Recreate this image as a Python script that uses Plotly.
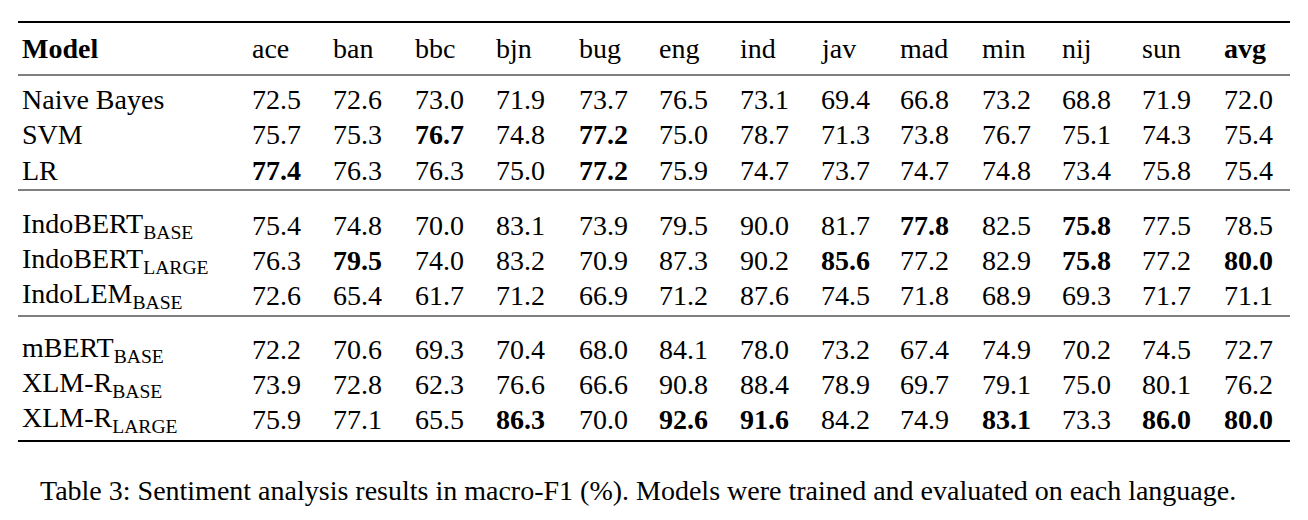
import plotly.graph_objects as go

columns = ["ace","ban","bbc","bjn","bug","eng","ind","jav","mad","min","nij","sun","avg"]
models = ["Naive Bayes","SVM","LR",
          "IndoBERT<sub>BASE</sub>","IndoBERT<sub>LARGE</sub>","IndoLEM<sub>BASE</sub>",
          "mBERT<sub>BASE</sub>","XLM-R<sub>BASE</sub>","XLM-R<sub>LARGE</sub>"]
values = [
    [72.5,72.6,73.0,71.9,73.7,76.5,73.1,69.4,66.8,73.2,68.8,71.9,72.0],
    [75.7,75.3,76.7,74.8,77.2,75.0,78.7,71.3,73.8,76.7,75.1,74.3,75.4],
    [77.4,76.3,76.3,75.0,77.2,75.9,74.7,73.7,74.7,74.8,73.4,75.8,75.4],
    [75.4,74.8,70.0,83.1,73.9,79.5,90.0,81.7,77.8,82.5,75.8,77.5,78.5],
    [76.3,79.5,74.0,83.2,70.9,87.3,90.2,85.6,77.2,82.9,75.8,77.2,80.0],
    [72.6,65.4,61.7,71.2,66.9,71.2,87.6,74.5,71.8,68.9,69.3,71.7,71.1],
    [72.2,70.6,69.3,70.4,68.0,84.1,78.0,73.2,67.4,74.9,70.2,74.5,72.7],
    [73.9,72.8,62.3,76.6,66.6,90.8,88.4,78.9,69.7,79.1,75.0,80.1,76.2],
    [75.9,77.1,65.5,86.3,70.0,92.6,91.6,84.2,74.9,83.1,73.3,86.0,80.0],
]
caption = "Table 3: Sentiment analysis results in macro-F1 (%). Models were trained and evaluated on each language."

OFF = 8
col_x = [250,331,413,494,577,657,738,819,898,980,1060,1140,1222]
row_y = [99,134,170,225,260,295,349,384,419]
header_y = 48
FONT = "Liberation Serif"
FS = 28

ann = []
def add(x, y, t, size=FS):
    ann.append(dict(x=x - OFF, y=y - OFF, xref="x", yref="y", text=t, showarrow=False,
                    xanchor="left", yanchor="middle",
                    font=dict(family=FONT, size=size, color="black")))

add(20, header_y, "<b>Model</b>")
for j, c in enumerate(columns):
    add(col_x[j], header_y, f"<b>{c}</b>" if c == "avg" else c)
colmax = [max(r[j] for r in values) for j in range(len(columns))]
for i, m in enumerate(models):
    add(20, row_y[i], m)
    for j, v in enumerate(values[i]):
        s = f"{v:.1f}"
        add(col_x[j], row_y[i], f"<b>{s}</b>" if v == colmax[j] else s)
add(38, 490, caption, size=28)

shapes = []
for y, w in [(22, 2), (75, 1), (190, 1), (316, 1), (441, 2)]:
    shapes.append(dict(type="line", x0=18 - OFF, x1=1290 - OFF, y0=y - OFF, y1=y - OFF,
                       xref="x", yref="y", line=dict(color="black", width=w)))

fig = go.Figure()
fig.update_layout(width=1308, height=520, margin=dict(l=0, r=0, t=0, b=0),
                  paper_bgcolor="white", plot_bgcolor="white",
                  xaxis=dict(range=[0, 1308], visible=False, fixedrange=True),
                  yaxis=dict(range=[520, 0], visible=False, fixedrange=True),
                  annotations=ann, shapes=shapes, showlegend=False)
fig.write_html("out.html")
